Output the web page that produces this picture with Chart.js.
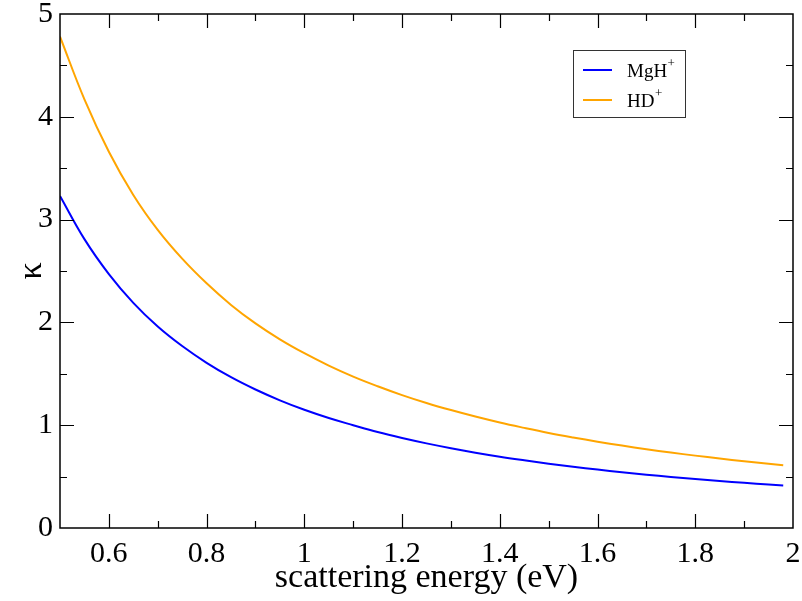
<!DOCTYPE html>
<html>
<head>
<meta charset="utf-8">
<script src="https://cdn.jsdelivr.net/npm/chart.js@4"></script>
<style>
html,body{margin:0;padding:0;background:#fff;}
#wrap{width:802px;height:601px;position:relative;}
</style>
</head>
<body>
<div id="wrap"><canvas id="c" width="802" height="601"></canvas></div>
<script>
// ---- data ----
const energy = [0.5, 0.55, 0.6, 0.65, 0.7, 0.75, 0.8, 0.85, 0.9, 0.95, 1.0, 1.05, 1.1, 1.15, 1.2, 1.25, 1.3, 1.35, 1.4, 1.45, 1.5, 1.55, 1.6, 1.65, 1.7, 1.75, 1.8, 1.85, 1.9, 1.95, 1.98];
const kappaMgH = [3.23, 2.81, 2.47, 2.19, 1.96, 1.77, 1.607, 1.467, 1.347, 1.242, 1.15, 1.07, 1.00, 0.933, 0.875, 0.823, 0.776, 0.733, 0.694, 0.659, 0.626, 0.596, 0.568, 0.543, 0.519, 0.497, 0.476, 0.457, 0.439, 0.422, 0.413];
const kappaHD = [4.78, 4.17, 3.66, 3.24, 2.90, 2.62, 2.38, 2.17, 1.99, 1.835, 1.70, 1.58, 1.473, 1.379, 1.293, 1.216, 1.147, 1.084, 1.026, 0.974, 0.925, 0.881, 0.84, 0.802, 0.767, 0.734, 0.704, 0.676, 0.649, 0.624, 0.61];
const seriesNames = ["MgH", "HD"];
const seriesSup = ["+", "+"];
const xTicks = [0.6, 0.8, 1.0, 1.2, 1.4, 1.6, 1.8, 2.0];
const yTicks = [0, 1, 2, 3, 4, 5];
const xTitle = "scattering energy (eV)";
const yTitle = "κ";

const FONT = "'Liberation Serif', 'Times New Roman', serif";
const colors = ["#0000ff", "#ffa500"];

function pts(xs, ys){ return xs.map((x,i)=>({x:x, y:ys[i]})); }

const frameTicks = {
  id: 'frameTicks',
  afterDraw(chart){
    const ctx = chart.ctx, a = chart.chartArea;
    const xs = chart.scales.x, ys = chart.scales.y;
    ctx.save();
    ctx.strokeStyle = '#000';
    ctx.lineWidth = 1.5;
    ctx.strokeRect(a.left, a.top, a.right - a.left, a.bottom - a.top);
    const major = 14, minor = 7;
    ctx.lineWidth = 1.2;
    ctx.beginPath();
    for (let v = 0.5; v <= 2.0001; v += 0.1){
      const vv = Math.round(v*10)/10;
      const isMajor = xTicks.some(t => Math.abs(t - vv) < 1e-6);
      const L = isMajor ? major : minor;
      const px = Math.round(xs.getPixelForValue(vv)) + 0.5;
      if (px <= a.left + 1 || px >= a.right - 1) continue;
      ctx.moveTo(px, a.bottom); ctx.lineTo(px, a.bottom - L);
      ctx.moveTo(px, a.top); ctx.lineTo(px, a.top + L);
    }
    for (let v = 0; v <= 5.0001; v += 0.5){
      const isMajor = Math.abs(v - Math.round(v)) < 1e-6;
      const L = isMajor ? major : minor;
      const py = Math.round(ys.getPixelForValue(v)) + 0.5;
      if (py <= a.top + 1 || py >= a.bottom - 1) continue;
      ctx.moveTo(a.left, py); ctx.lineTo(a.left + L, py);
      ctx.moveTo(a.right, py); ctx.lineTo(a.right - L, py);
    }
    ctx.stroke();

    // legend
    const bx = 573, by = 50, bw = 112, bh = 67;
    ctx.fillStyle = '#fff';
    ctx.fillRect(bx, by, bw, bh);
    ctx.strokeStyle = '#333';
    ctx.lineWidth = 1;
    ctx.strokeRect(bx + 0.5, by + 0.5, bw, bh);
    const rows = [70, 100];
    chart.data.datasets.forEach((ds, i) => {
      const y = rows[i];
      ctx.strokeStyle = ds.borderColor;
      ctx.lineWidth = 2;
      ctx.beginPath(); ctx.moveTo(583, y); ctx.lineTo(612, y); ctx.stroke();
      ctx.fillStyle = '#000';
      ctx.textBaseline = 'alphabetic';
      ctx.textAlign = 'left';
      ctx.font = "19px " + FONT;
      const name = seriesNames[i];
      ctx.fillText(name, 627, y + 7);
      const w = ctx.measureText(name).width;
      ctx.font = "13px " + FONT;
      ctx.fillText(seriesSup[i], 627 + w + 0.5, y - 3);
    });
    ctx.restore();
  }
};

new Chart(document.getElementById('c'), {
  type: 'line',
  data: {
    datasets: [
      { label: seriesNames[0] + seriesSup[0], data: pts(energy, kappaMgH), borderColor: colors[0], backgroundColor: colors[0], borderWidth: 2, pointRadius: 0, tension: 0.4, fill: false },
      { label: seriesNames[1] + seriesSup[1], data: pts(energy, kappaHD), borderColor: colors[1], backgroundColor: colors[1], borderWidth: 2, pointRadius: 0, tension: 0.4, fill: false }
    ]
  },
  options: {
    responsive: false,
    animation: false,
    devicePixelRatio: 1,
    layout: { padding: { left: 0, top: 14, right: 9, bottom: 0 } },
    plugins: { legend: { display: false }, tooltip: { enabled: false } },
    scales: {
      x: {
        type: 'linear', min: 0.5, max: 2.0,
        afterBuildTicks: s => { s.ticks = xTicks.map(v => ({ value: v })); },
        afterFit: s => { s.height = 73; s.paddingLeft = 0; s.paddingRight = 0; },
        grid: { display: false, drawTicks: false },
        border: { display: false },
        ticks: { color: '#000', padding: 8, maxRotation: 0, autoSkip: false,
                 font: { family: FONT, size: 30 }, 
                 callback: v => String(Math.round(v * 10) / 10) },
        title: { display: true, text: xTitle, color: '#000', font: { family: FONT, size: 34, lineHeight: 1 }, padding: { top: 0, bottom: 6 } }
      },
      y: {
        type: 'linear', min: 0, max: 5,
        afterBuildTicks: s => { s.ticks = yTicks.map(v => ({ value: v })); },
        afterFit: s => { s.width = 60; s.paddingTop = 0; s.paddingBottom = 0; },
        grid: { display: false, drawTicks: false },
        border: { display: false },
        ticks: { color: '#000', padding: 7, autoSkip: false,
                 font: { family: FONT, size: 30 },
                 callback: v => String(v) },
        title: { display: true, text: yTitle, color: '#000', font: { family: FONT, size: 34 }, padding: { top: 12, bottom: 0 } }
      }
    }
  },
  plugins: [frameTicks]
});
</script>
</body>
</html>
